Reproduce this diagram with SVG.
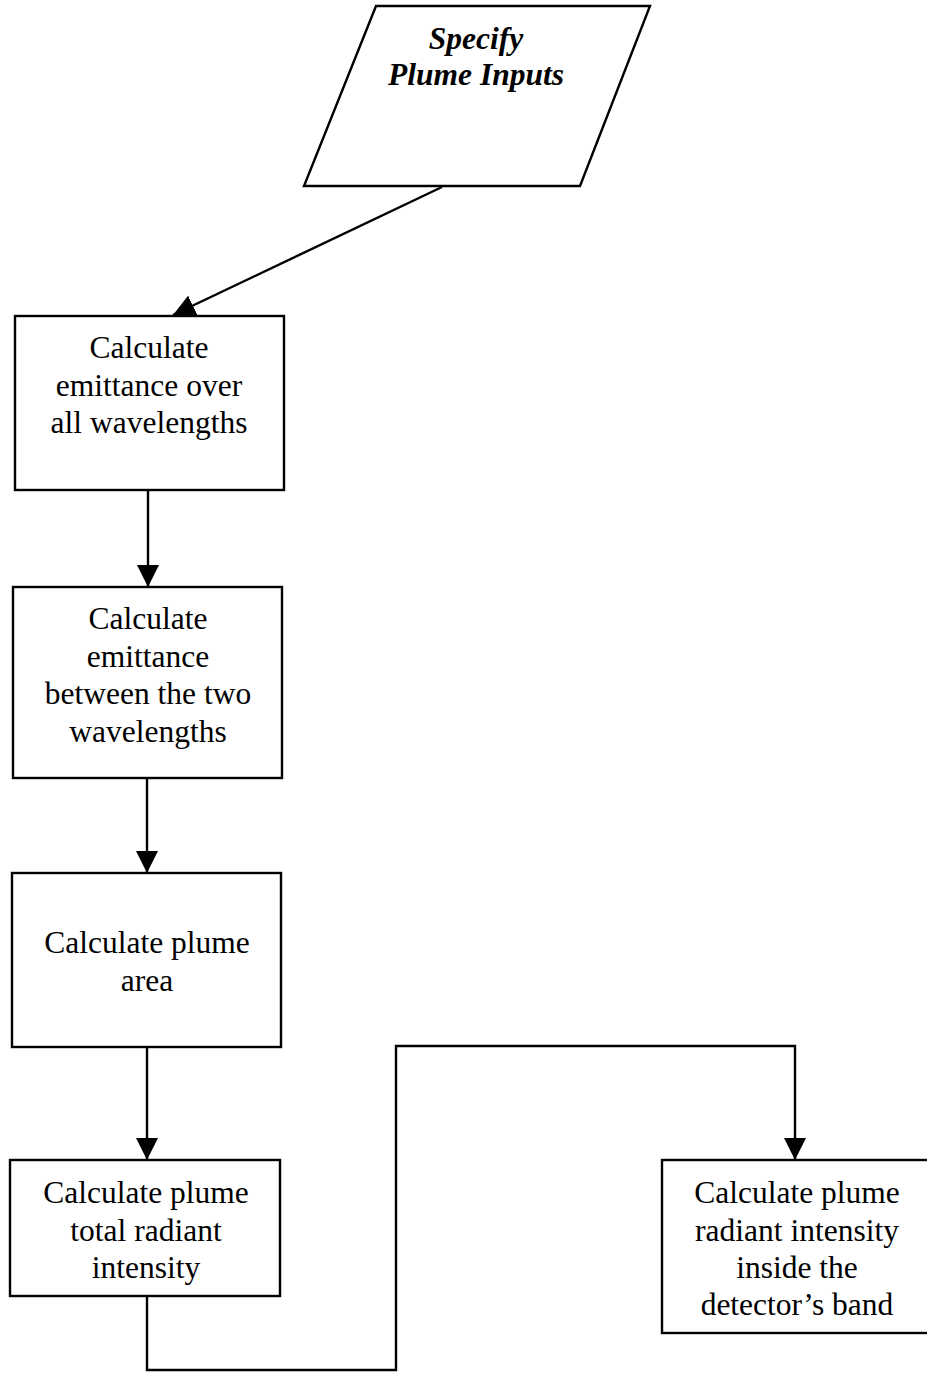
<svg xmlns="http://www.w3.org/2000/svg" width="927" height="1374" viewBox="0 0 927 1374">
<style>
.box{fill:#fff;stroke:#000;stroke-width:2.4}
.t{font-family:"Liberation Serif","Times New Roman",serif;font-size:31.5px;fill:#000;text-anchor:middle}
.ti{font-family:"Liberation Serif","Times New Roman",serif;font-size:31.5px;font-weight:bold;font-style:italic;fill:#000;text-anchor:middle}
.c{fill:none;stroke:#000;stroke-width:2.4}
</style>
<defs>
<marker id="ahb" viewBox="0 0 22 22" refX="22" refY="11" markerWidth="22" markerHeight="22" markerUnits="userSpaceOnUse" orient="auto">
<path d="M0,0 L22,11 L0,22 z" fill="#000"/>
</marker>
</defs>
<rect width="927" height="1374" fill="#fff"/>
<g id="connectors">
<line class="c" x1="442" y1="187" x2="173" y2="315" marker-end="url(#ahb)"/>
<line class="c" x1="148" y1="490" x2="148" y2="587" marker-end="url(#ahb)"/>
<line class="c" x1="147" y1="778" x2="147" y2="873" marker-end="url(#ahb)"/>
<line class="c" x1="147" y1="1047" x2="147" y2="1160" marker-end="url(#ahb)"/>
<path class="c" d="M147,1296 V1370 H396 V1046 H795 V1160" marker-end="url(#ahb)"/>
</g>
<g id="start">
<polygon class="box" points="376,6 650,6 580,186 304,186"/>
<text class="ti" x="476" y="49">Specify</text>
<text class="ti" x="476" y="85">Plume Inputs</text>
</g>
<g id="n1">
<rect class="box" x="15" y="316" width="269" height="174"/>
<text class="t" x="149" y="358">Calculate</text>
<text class="t" x="149" y="396">emittance over</text>
<text class="t" x="149" y="433">all wavelengths</text>
</g>
<g id="n2">
<rect class="box" x="13" y="587" width="269" height="191"/>
<text class="t" x="148" y="629">Calculate</text>
<text class="t" x="148" y="667">emittance</text>
<text class="t" x="148" y="704">between the two</text>
<text class="t" x="148" y="742">wavelengths</text>
</g>
<g id="n3">
<rect class="box" x="12" y="873" width="269" height="174"/>
<text class="t" x="147" y="953">Calculate plume</text>
<text class="t" x="147" y="991">area</text>
</g>
<g id="n4">
<rect class="box" x="10" y="1160" width="270" height="136"/>
<text class="t" x="146" y="1203">Calculate plume</text>
<text class="t" x="146" y="1241">total radiant</text>
<text class="t" x="146" y="1278">intensity</text>
</g>
<g id="n5">
<rect class="box" x="662" y="1160" width="268" height="173"/>
<text class="t" x="797" y="1203">Calculate plume</text>
<text class="t" x="797" y="1241">radiant intensity</text>
<text class="t" x="797" y="1278">inside the</text>
<text class="t" x="797" y="1315">detector’s band</text>
</g>
</svg>
